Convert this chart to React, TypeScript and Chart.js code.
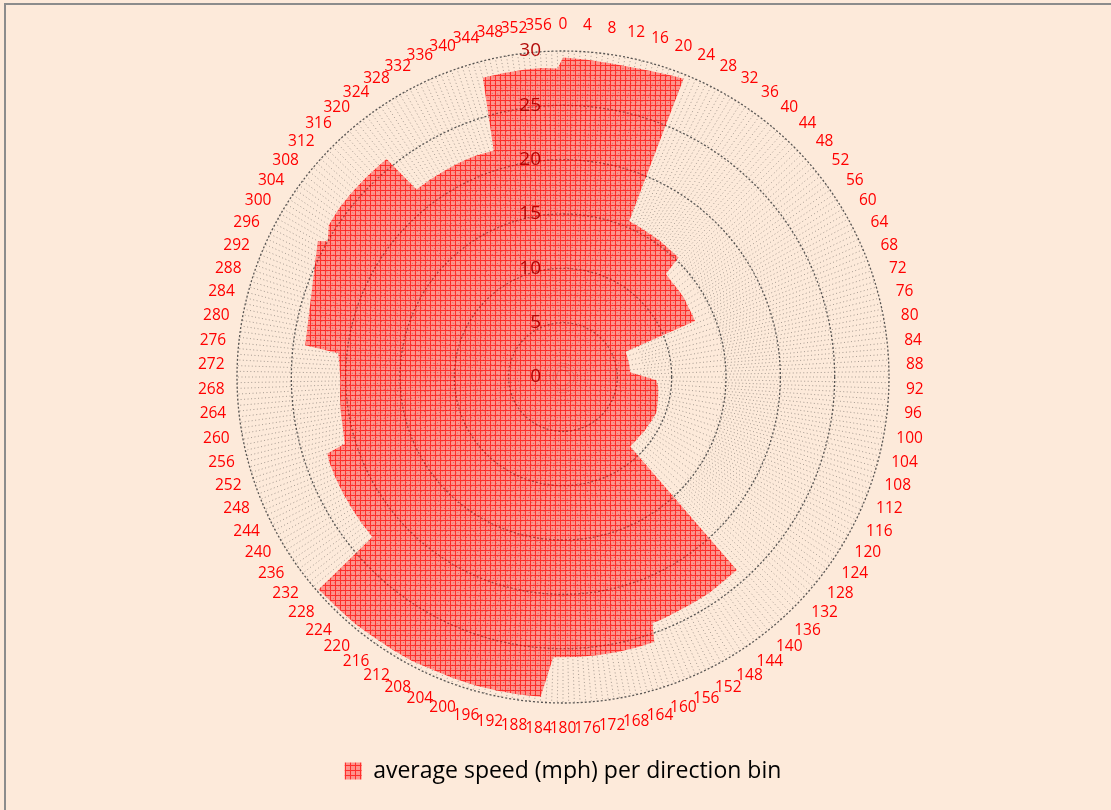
import React, { useEffect, useRef } from "react";
import { Chart, registerables } from "chart.js";

Chart.register(...registerables);

// Category axis: one category per degree of wind direction
const directionLabels: string[] = Array.from({ length: 360 }, (_, i) => String(i));
const labelStep = 4;

// Directions (deg) where the series has a value; other categories are empty (gaps spanned)
const sampleDirections: number[] = [
  0, 4, 8, 12, 16, 20, 22,
  23, 27, 31, 35, 39, 44,
  45, 49, 53, 57, 61, 64, 67,
  68, 72, 76, 80, 86,
  92, 96, 100, 104, 108, 111, 116, 120, 124, 128, 132, 136,
  138, 142, 146, 150, 154, 158, 160,
  161, 165, 169, 173, 177, 182,
  184, 188, 192, 196, 200, 204, 208, 212, 216, 220, 224, 229,
  230, 234, 238, 242, 246, 250, 252,
  253, 257, 261, 265, 269, 273, 276,
  277, 299,
  300, 303, 307, 311, 315, 318, 321,
  322, 326, 330, 334, 338, 343,
  345, 349, 353, 356, 359,
];
// Average speed (mph) read at those directions
const sampleSpeeds: number[] = [
  29.4, 29.3, 29.2, 29.2, 29.3, 29.5, 29.6,
  15.6, 15.5, 15.4, 15.4, 15.3, 15.3,
  13.4, 13.3, 13.3, 13.3, 13.2, 13.2, 13.2,
  6.2, 6.2, 6.2, 6.2, 6.2,
  8.6, 8.8, 8.9, 9.0, 9.1, 9.2, 9.1, 9.0, 9.0, 8.9, 8.9, 8.9,
  23.9, 23.9, 24.0, 24.0, 24.0, 24.1, 24.1,
  25.8, 25.8, 25.8, 25.8, 25.8, 25.8,
  29.5, 29.5, 29.5, 29.5, 29.5, 29.5, 29.6, 29.6, 29.6, 29.7, 29.7, 29.8,
  22.9, 22.9, 22.9, 22.9, 22.9, 22.9, 22.8,
  21.0, 20.8, 20.7, 20.6, 20.5, 20.6, 20.8,
  23.9, 25.8,
  25.0, 25.7, 25.8, 25.8, 25.8, 25.8, 25.8,
  21.9, 21.9, 21.9, 21.9, 21.9, 21.8,
  28.5, 28.5, 28.5, 28.5, 28.4,
];
const speedTicks: number[] = [0, 5, 10, 15, 20, 25, 30];
const seriesName = "average speed (mph) per direction bin";

function makePattern(): CanvasPattern | string {
  const c = document.createElement("canvas");
  c.width = 5;
  c.height = 5;
  const g = c.getContext("2d");
  if (!g) return "rgba(255,60,60,0.6)";
  g.fillStyle = "rgba(255,60,60,0.5)";
  g.fillRect(0, 0, 5, 5);
  g.clearRect(0, 0, 5, 1);
  g.clearRect(0, 0, 1, 5);
  g.fillStyle = "rgba(255,0,0,0.8)";
  g.fillRect(0, 0, 5, 1);
  g.fillRect(0, 1, 1, 4);
  const p = g.createPattern(c, "repeat");
  return p || "rgba(255,60,60,0.6)";
}

// dotted spokes (one per category); inner parts thinned so the texture stays even
const spokePlugin = {
  id: "spokes",
  beforeDatasetsDraw(chart: any) {
    const scale = chart.scales.r;
    const ctx = chart.ctx as CanvasRenderingContext2D;
    const n = (chart.data.labels as string[]).length;
    const outer = scale.drawingArea;
    ctx.save();
    ctx.strokeStyle = "rgba(25,25,25,0.55)";
    ctx.lineWidth = 0.7;
    ctx.setLineDash([1, 2.5]);
    for (let i = 0; i < n; i++) {
      const start = i % 8 === 0 ? 6 : i % 4 === 0 ? 40 : i % 2 === 0 ? 80 : 160;
      const a = scale.getPointPosition(i, start);
      const b = scale.getPointPosition(i, outer);
      ctx.lineDashOffset = (i * 1.3) % 3.5;
      ctx.beginPath();
      ctx.moveTo(a.x, a.y);
      ctx.lineTo(b.x, b.y);
      ctx.stroke();
    }
    ctx.restore();
  },
};

const dirLabelPlugin = {
  id: "dirLabels",
  afterDraw(chart: any) {
    const scale = chart.scales.r;
    const ctx = chart.ctx as CanvasRenderingContext2D;
    ctx.save();
    ctx.font = '15.5px "Open Sans"';
    ctx.fillStyle = "#FF0000";
    ctx.textAlign = "center";
    ctx.textBaseline = "middle";
    const labels = chart.data.labels as string[];
    const dist = scale.drawingArea + 26;
    labels.forEach((lab, i) => {
      if (i % labelStep !== 0) return;
      const p = scale.getPointPosition(i, dist);
      ctx.fillText(lab, p.x, p.y);
    });
    ctx.restore();
  },
};

const tickLabelPlugin = {
  id: "tickLabels",
  afterDatasetsDraw(chart: any) {
    const scale = chart.scales.r;
    const ctx = chart.ctx as CanvasRenderingContext2D;
    ctx.save();
    ctx.font = '19px "Open Sans"';
    ctx.fillStyle = "rgba(175,0,0,0.95)";
    ctx.textAlign = "right";
    ctx.textBaseline = "middle";
    speedTicks.forEach((v) => {
      const d = scale.getDistanceFromCenterForValue(v);
      ctx.fillText(String(v), scale.xCenter - 22, scale.yCenter - d);
    });
    ctx.restore();
  },
};

export default function App() {
  const ref = useRef<HTMLCanvasElement | null>(null);

  useEffect(() => {
    if (!ref.current) return;
    const values: (number | null)[] = directionLabels.map(() => null);
    sampleDirections.forEach((d, k) => {
      values[d] = sampleSpeeds[k];
    });
    const pattern = makePattern();
    const chart = new Chart(ref.current, {
      type: "radar",
      data: {
        labels: directionLabels,
        datasets: [
          {
            label: seriesName,
            data: values,
            backgroundColor: pattern as any,
            borderColor: "rgba(0,0,0,0)",
            borderWidth: 0,
            fill: "origin",
            pointRadius: 0,
            pointHoverRadius: 0,
            spanGaps: true,
            tension: 0,
          } as any,
        ],
      },
      options: {
        responsive: false,
        animation: false,
        devicePixelRatio: 1,
        events: [],
        layout: { padding: { top: 51, bottom: 17.5, left: 15, right: 0 } },
        plugins: {
          legend: {
            position: "bottom",
            labels: {
              font: { family: "Open Sans", size: 23 },
              color: "#000000",
              boxWidth: 17,
              boxHeight: 17,
              padding: 56.5,
            },
          },
          tooltip: { enabled: false },
        },
        scales: {
          r: {
            min: 0,
            max: 30,
            startAngle: 0,
            ticks: { stepSize: 5, display: false },
            grid: { circular: true, color: "rgba(60,60,60,0.85)", lineWidth: 1.3 },
            border: { dash: [2, 2] },
            angleLines: { display: false },
            pointLabels: { display: false },
          },
        },
      } as any,
      plugins: [spokePlugin, dirLabelPlugin, tickLabelPlugin],
    });
    return () => chart.destroy();
  }, []);

  return (
    <div
      style={{
        position: "fixed",
        left: 0,
        top: 0,
        width: 1111,
        height: 810,
        background: "#FDEADA",
        overflow: "hidden",
      }}
    >
      <div
        style={{
          position: "absolute",
          left: 4,
          top: 3,
          width: 1200,
          height: 900,
          border: "2px solid #8c8c8c",
        }}
      />
      <canvas ref={ref} width={1111} height={810} style={{ position: "absolute", left: 0, top: 0 }} />
    </div>
  );
}
